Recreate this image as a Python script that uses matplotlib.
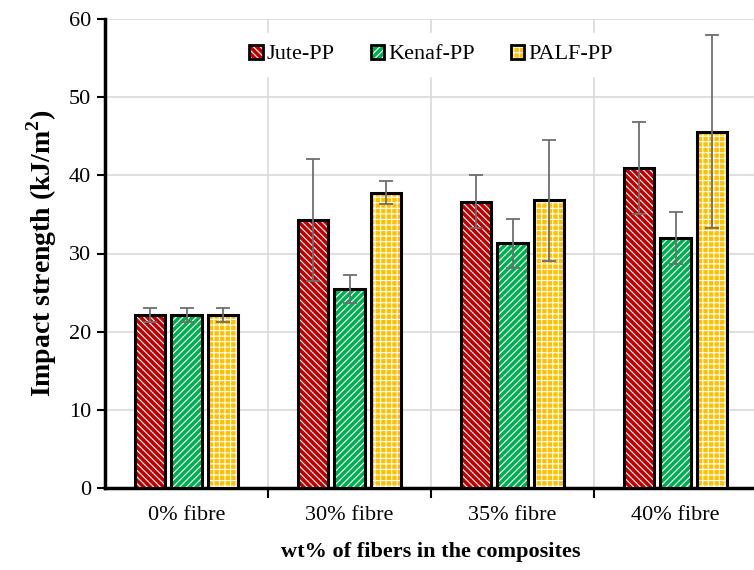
#!/usr/bin/env python3
"""Impact strength of natural fibre / PP composites, grouped bar chart."""

import matplotlib
matplotlib.use("Agg")
import matplotlib.pyplot as plt
import numpy as np
from matplotlib.legend_handler import HandlerTuple
from matplotlib.patches import Rectangle

categories = ["0% fibre", "30% fibre", "35% fibre", "40% fibre"]
series_names = ["Jute-PP", "Kenaf-PP", "PALF-PP"]
jute = [22.1, 34.3, 36.6, 40.9]
kenaf = [22.1, 25.5, 31.3, 32.0]
palf = [22.1, 37.8, 36.8, 45.6]
jute_err = [0.9, 7.8, 3.4, 5.9]
kenaf_err = [0.9, 1.8, 3.1, 3.3]
palf_err = [0.9, 1.5, 7.7, 12.4]

colors = ["#C00000", "#00B050", "#FFC000"]
hatches = ["\\\\\\\\\\", "/////", "+++"]

plt.rcParams["font.family"] = ["Liberation Serif", "DejaVu Serif"]
plt.rcParams["hatch.linewidth"] = 0.8

fig = plt.figure(figsize=(7.54, 5.70), dpi=100)
ax = fig.add_axes([105 / 754, 82 / 570, 652 / 754, 469 / 570])

x = np.arange(len(categories))
width = 0.185
step = 0.222
values = [jute, kenaf, palf]
errors = [jute_err, kenaf_err, palf_err]

for i, (vals, errs) in enumerate(zip(values, errors)):
    pos = x + (i - 1) * step
    # fill + white hatch, then a black outline on top
    ax.bar(pos, vals, width, color=colors[i], edgecolor="white", hatch=hatches[i],
           linewidth=0, zorder=3)
    ax.bar(pos, vals, width, fill=False, edgecolor="black", linewidth=2.2, zorder=4)
    ax.errorbar(pos, vals, yerr=errs, fmt="none", ecolor="#6E6E6E", elinewidth=1.3,
                capsize=5, capthick=1.3, zorder=5)

ax.set_xlim(-0.5, 3.5)
ax.set_ylim(0, 60)
ax.set_yticks(np.arange(0, 61, 10))
ax.set_xticks(x)
ax.set_xticklabels(categories, fontsize=16)
ax.set_xticks([0.5, 1.5, 2.5], minor=True)
ax.tick_params(axis="x", which="major", length=0, pad=13)
ax.tick_params(axis="x", which="minor", length=7, width=1.5, direction="out")
ax.tick_params(axis="y", labelsize=16, length=6, width=1.5, direction="out", pad=4)

ax.yaxis.grid(True, color="#D9D9D9", linewidth=1.2, zorder=0)
ax.xaxis.grid(True, which="minor", color="#D9D9D9", linewidth=1.2, zorder=0)
ax.set_axisbelow(True)

for side in ["top", "right"]:
    ax.spines[side].set_visible(False)
ax.spines["left"].set_linewidth(2.5)
ax.spines["bottom"].set_linewidth(2.5)

ax.set_ylabel("Impact strength (kJ/m$^\\mathregular{2}$)", fontsize=20, fontweight="bold",
              labelpad=7)
ax.set_xlabel("wt% of fibers in the composites", fontsize=16, fontweight="bold", labelpad=12)

handles = []
for i in range(3):
    fill = Rectangle((0, 0), 1, 1, facecolor=colors[i], edgecolor="white",
                     hatch=hatches[i], linewidth=0)
    edge = Rectangle((0, 0), 1, 1, fill=False, edgecolor="black", linewidth=2)
    handles.append((fill, edge))
leg = ax.legend(handles, series_names, loc="upper center", bbox_to_anchor=(0.5, 1.0),
                ncol=3, frameon=True, fontsize=16, handlelength=0.6, handleheight=0.6,
                handletextpad=0.2, columnspacing=1.6, borderaxespad=0.65, borderpad=0.5,
                handler_map={tuple: HandlerTuple(ndivide=1, pad=0)})
leg.get_frame().set_facecolor("white")
leg.get_frame().set_edgecolor("white")
leg.get_frame().set_alpha(1.0)
leg.set_zorder(6)

fig.savefig("out.png", dpi=100)
